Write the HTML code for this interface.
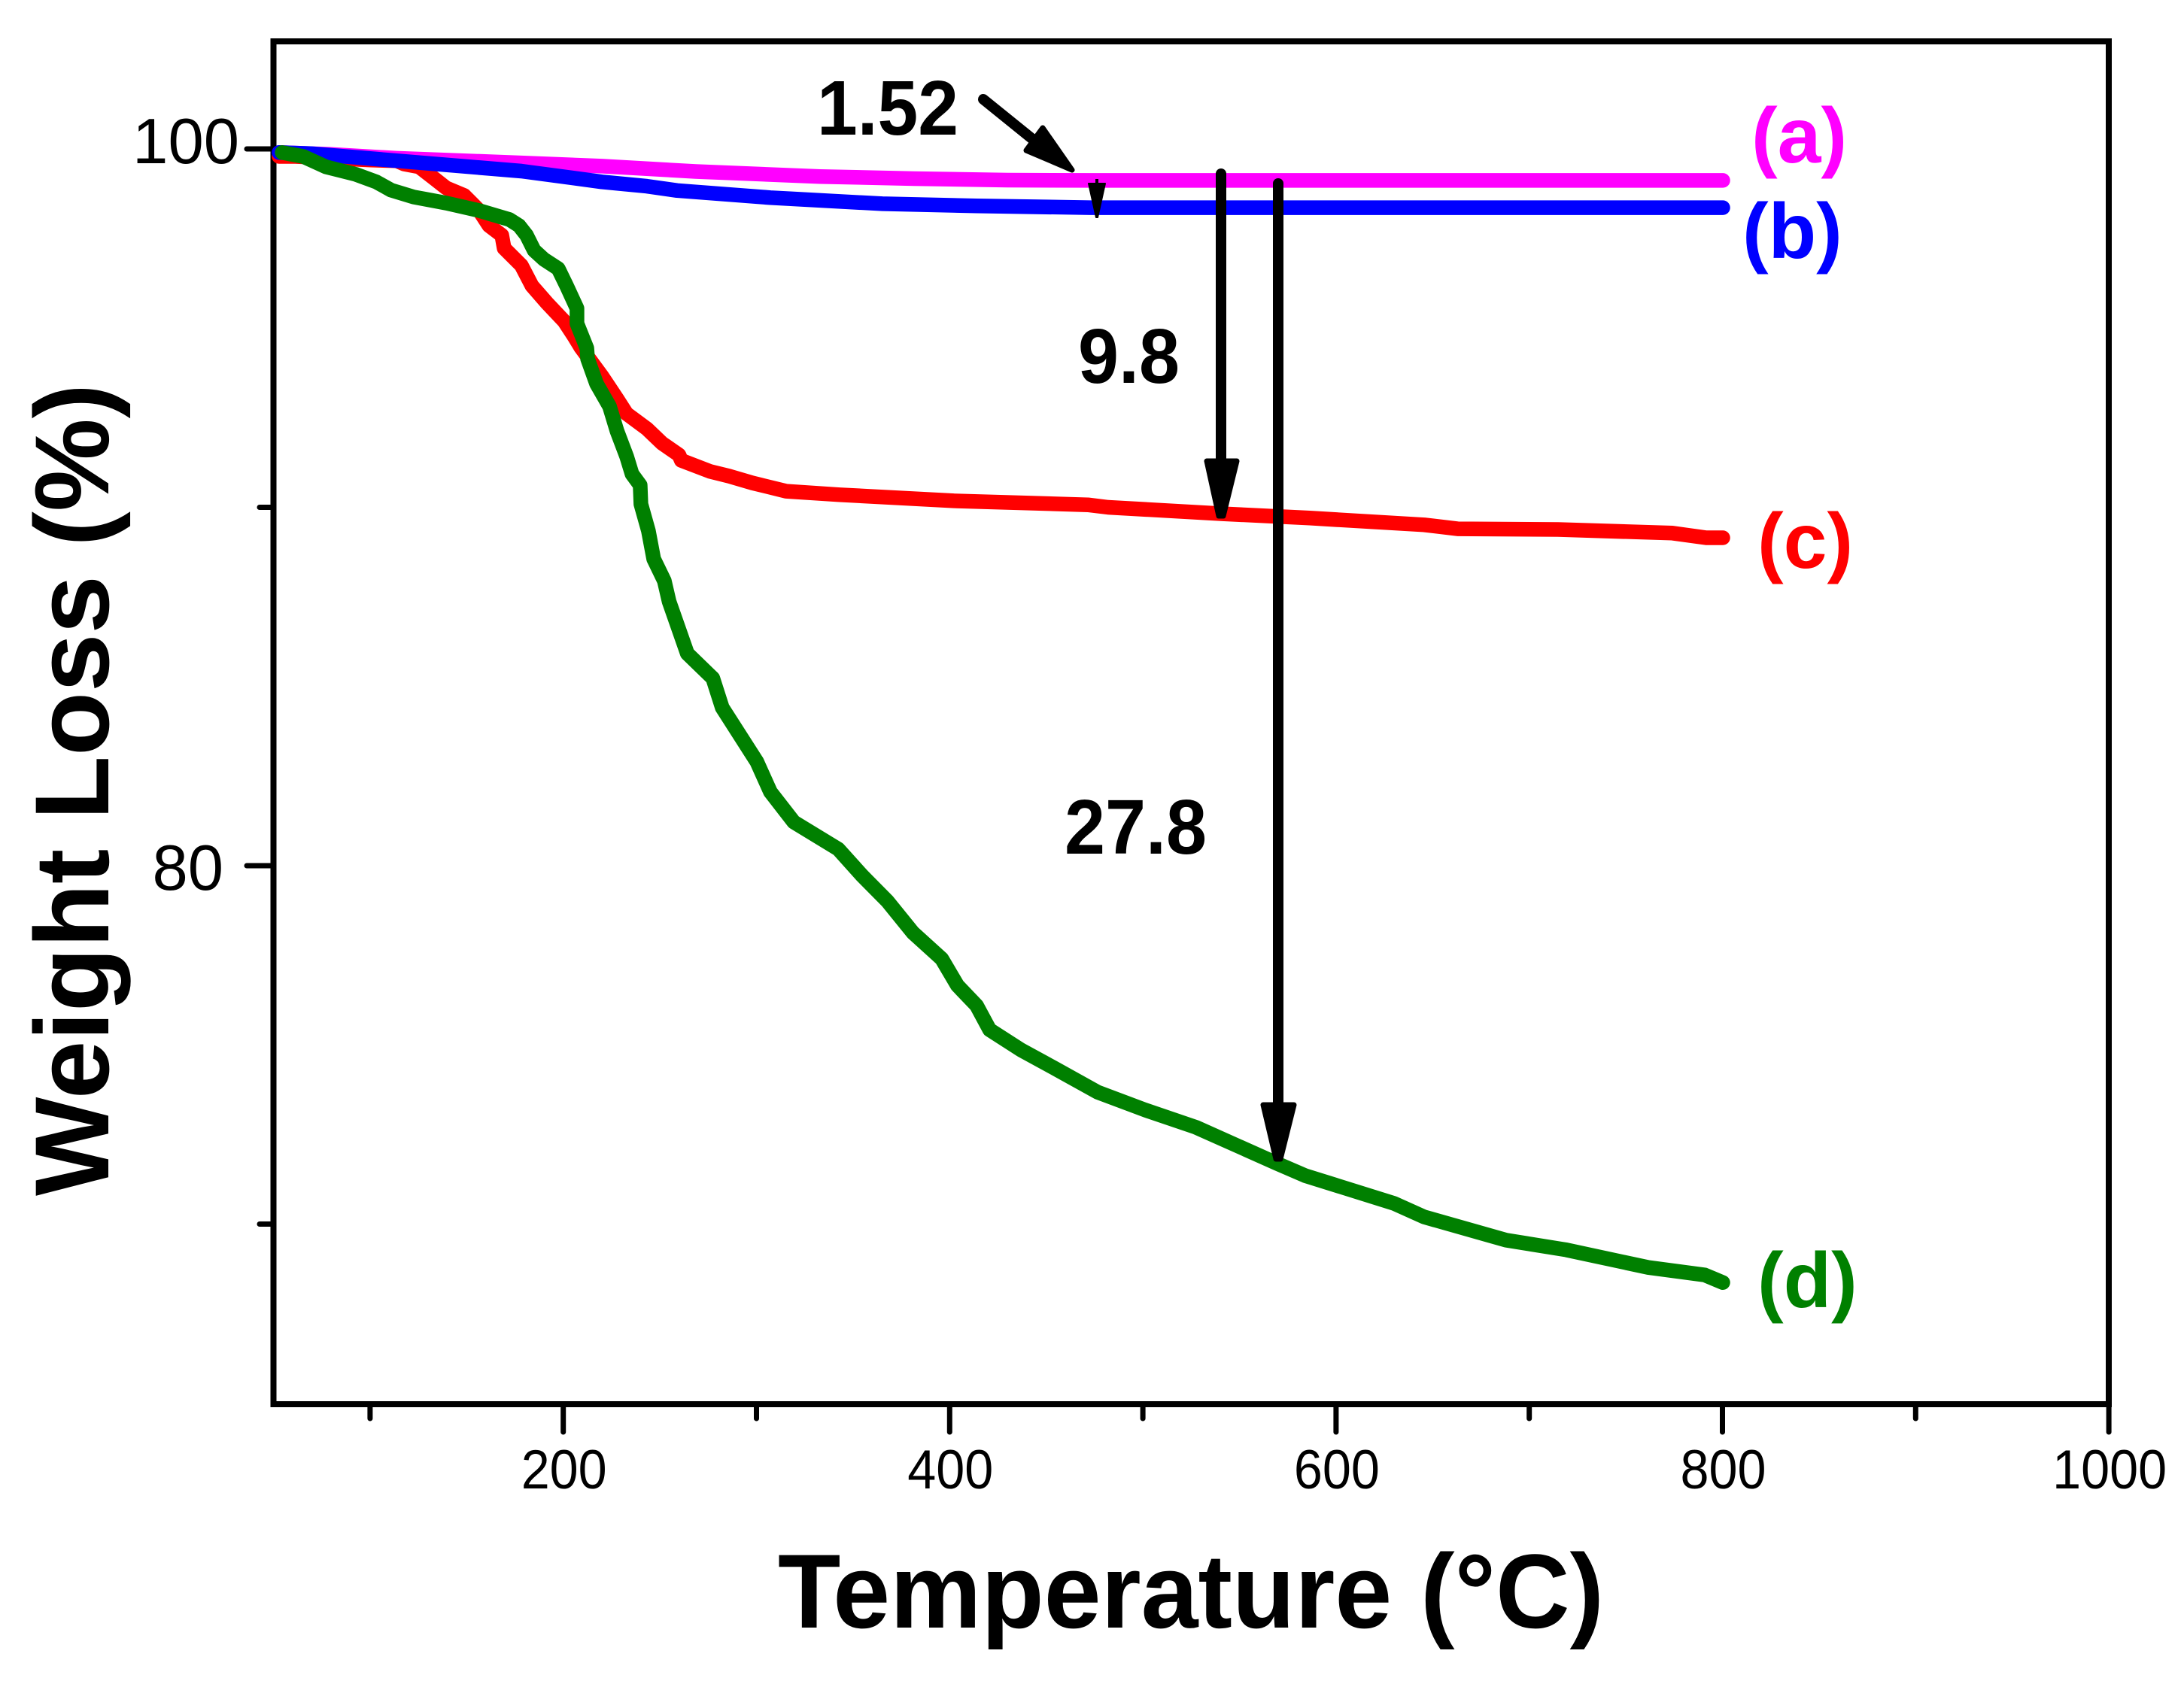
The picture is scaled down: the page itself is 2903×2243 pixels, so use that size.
<!DOCTYPE html>
<html lang="en">
<head>
<meta charset="utf-8">
<title>Weight Loss vs Temperature</title>
<style>
html,body{margin:0;padding:0;background:#fff;}
svg{display:block;}
text{font-family:"Liberation Sans",Arial,sans-serif;}
.b{font-weight:bold;}
</style>
</head>
<body>
<svg id="chart" xmlns="http://www.w3.org/2000/svg" width="2903" height="2243" viewBox="0 0 2903 2243">
  <rect x="0" y="0" width="2903" height="2243" fill="#fff"/>
  <rect x="363.5" y="55" width="2439.5" height="1812" fill="none" stroke="#000" stroke-width="8"/>
  <g id="ticks"></g>
  <g id="series"></g>

  <text class="b" x="1034" y="2164" font-size="140" textLength="1098" lengthAdjust="spacingAndGlyphs">Temperature (°C)</text>
  <text class="b" transform="translate(144 1590) rotate(-90)" x="0" y="0" font-size="140" textLength="1080" lengthAdjust="spacingAndGlyphs">Weight Loss (%)</text>

  <text class="b" x="2328" y="216" font-size="104" fill="#ff00ff">(a)</text>
  <text class="b" x="2316" y="343" font-size="104" fill="#0000ff">(b)</text>
  <text class="b" x="2336" y="755" font-size="104" fill="#ff0000">(c)</text>
  <text class="b" x="2336" y="1738" font-size="104" fill="#008000">(d)</text>

  <text class="b" x="1086" y="179" font-size="103" textLength="188" lengthAdjust="spacingAndGlyphs">1.52</text>
  <text class="b" x="1433" y="509" font-size="103" textLength="135" lengthAdjust="spacingAndGlyphs">9.8</text>
  <text class="b" x="1415" y="1135" font-size="103" textLength="189" lengthAdjust="spacingAndGlyphs">27.8</text>

  <g>
    <line x1="1307" y1="132" x2="1375" y2="187" stroke="#000" stroke-width="14" stroke-linecap="round"/>
    <polygon points="1386,170 1364,200 1425,226" fill="#000" stroke="#000" stroke-width="7" stroke-linejoin="round"/>
  </g>
  <g>
    <line x1="1458" y1="238" x2="1458" y2="250" stroke="#000" stroke-width="4"/>
    <polygon points="1447,244 1469,244 1459,289 1457,289" fill="#000" stroke="#000" stroke-width="2" stroke-linejoin="round"/>
  </g>
  <g>
    <line x1="1623" y1="231" x2="1623" y2="620" stroke="#000" stroke-width="14" stroke-linecap="round"/>
    <polygon points="1604,613 1644,613 1626,686 1620,686" fill="#000" stroke="#000" stroke-width="7" stroke-linejoin="round"/>
  </g>
  <g>
    <line x1="1699" y1="244" x2="1699" y2="1480" stroke="#000" stroke-width="14" stroke-linecap="round"/>
    <polygon points="1679,1469 1720,1469 1702,1541 1696,1541" fill="#000" stroke="#000" stroke-width="7" stroke-linejoin="round"/>
  </g>
</svg>
<script>
// Data arrays: temperature (°C) and weight (%)
const tempA = [53.7,78.6,113.7,178.3,220,268.5,332.9,381.6,429.9,473.1,800.2];
const weightA = [99.90,99.85,99.74,99.61,99.52,99.37,99.23,99.17,99.13,99.12,99.12];

const tempB = [52.9,69.3,113.7,178.3,220,243.3,258.9,307.2,365.2,413.9,473.1,800.2];
const weightB = [99.90,99.87,99.67,99.38,99.08,98.96,98.84,98.64,98.47,98.41,98.36,98.36];

const tempC = [52.9,61.5,100.4,113.7,117.6,125.4,133.1,139.4,148.7,156.5,161.6,168.2,169.4,178.3,183.8,191.6,200.5,205.6,209.1,220,227.8,232.8,243.3,251.1,259.9,261.1,276,285.8,297.9,315.4,343,402.2,471.5,482,541.2,586.4,645.6,662.9,714.9,774.1,791.6,800.2];
const weightC = [99.79,99.79,99.69,99.67,99.58,99.50,99.18,98.91,98.70,98.28,97.86,97.59,97.23,96.75,96.18,95.70,95.19,94.77,94.46,93.66,93.03,92.61,92.19,91.79,91.46,91.31,91.00,90.87,90.68,90.45,90.35,90.18,90.07,90.00,89.82,89.70,89.51,89.40,89.38,89.28,89.15,89.15];

const tempD = [54.5,65.4,77.1,92.6,103.2,110.9,122.6,139.4,156.5,172.1,177.1,181,184.9,190,197.4,201.7,207.1,207.1,212.2,212.6,217.2,223.9,227.8,232.8,235.6,239.8,240.2,244.1,246.8,252.3,254.8,264.2,277.4,282.3,300.2,307.2,319.3,342.4,354.9,367.8,381,395.9,404,413.9,420.7,436.9,454.2,476.6,501.4,527.5,569.5,584.1,629.9,645.6,688,719.2,761.6,790.9,800.2];
const weightD = [99.90,99.79,99.50,99.29,99.08,98.85,98.66,98.49,98.28,98.03,97.86,97.59,97.17,96.92,96.66,96.18,95.55,95.13,94.44,94.14,93.45,92.82,92.13,91.42,90.93,90.62,90.09,89.34,88.56,87.95,87.37,85.92,85.23,84.41,82.90,82.06,81.22,80.46,79.71,79.01,78.13,77.40,76.66,76.10,75.42,74.86,74.35,73.68,73.18,72.70,71.69,71.35,70.58,70.20,69.55,69.28,68.79,68.58,68.37];

const xMajorTicks = [200,400,600,800,1000];
const xMinorTicks = [100,300,500,700,900];
const yMajorTicks = [100,80];
const yMinorTicks = [90,70];

const svgNS = 'http://www.w3.org/2000/svg';
function xScale(t){ return 363.5 + (t - 50) * 2.568; }
function yScale(w){ return 198 + (100 - w) * 47.65; }

const seriesLayer = document.getElementById('series');
const tickLayer = document.getElementById('ticks');

function pathFrom(temps, weights){
  return temps.map(function(t, i){
    return (i ? 'L' : 'M') + xScale(t).toFixed(1) + ' ' + yScale(weights[i]).toFixed(1);
  }).join(' ');
}
function makeCurve(temps, weights, color){
  const p = document.createElementNS(svgNS, 'path');
  p.setAttribute('d', pathFrom(temps, weights));
  p.setAttribute('fill', 'none');
  p.setAttribute('stroke', color);
  p.setAttribute('stroke-width', '19.5');
  p.setAttribute('stroke-linecap', 'round');
  p.setAttribute('stroke-linejoin', 'round');
  seriesLayer.appendChild(p);
  return p;
}

const curveC = makeCurve(tempC, weightC, '#ff0000');


const curveA = makeCurve(tempA, weightA, '#ff00ff');


const curveB = makeCurve(tempB, weightB, '#0000ff');


const curveD = makeCurve(tempD, weightD, '#008000');



function makeTick(x1, y1, x2, y2){
  const l = document.createElementNS(svgNS, 'line');
  l.setAttribute('x1', x1);
  l.setAttribute('y1', y1);
  l.setAttribute('x2', x2);
  l.setAttribute('y2', y2);
  l.setAttribute('stroke', '#000');
  l.setAttribute('stroke-width', '7');
  l.setAttribute('stroke-linecap', 'round');
  tickLayer.appendChild(l);
  return l;
}
function makeLabel(str, x, y, size, anchor){
  const t = document.createElementNS(svgNS, 'text');
  t.setAttribute('x', x);
  t.setAttribute('y', y);
  t.setAttribute('font-size', size);
  t.setAttribute('text-anchor', anchor);
  t.textContent = str;
  tickLayer.appendChild(t);
  return t;
}

xMajorTicks.forEach(function(v){
  const tick = makeTick(xScale(v), 1868, xScale(v), 1904);
  
  
  const s = String(v);
  const label = makeLabel(s, xScale(v) + 1, 1979, 73, 'middle');
  label.setAttribute('textLength', s.length * 38);
  label.setAttribute('lengthAdjust', 'spacingAndGlyphs');
  
  
});
xMinorTicks.forEach(function(v){
  const tick = makeTick(xScale(v), 1868, xScale(v), 1886);
  
  
});
yMajorTicks.forEach(function(v){
  const tick = makeTick(362, yScale(v), 328, yScale(v));
  
  
  const s = String(v);
  const extra = s.length - 2;
  const label = makeLabel(s, 297 + extra * 21, yScale(v) + 32 - extra * 13, 85, 'end');
  
  
});
yMinorTicks.forEach(function(v){
  const tick = makeTick(362, yScale(v), 345, yScale(v));
  
  
});
</script>
</body>
</html>
